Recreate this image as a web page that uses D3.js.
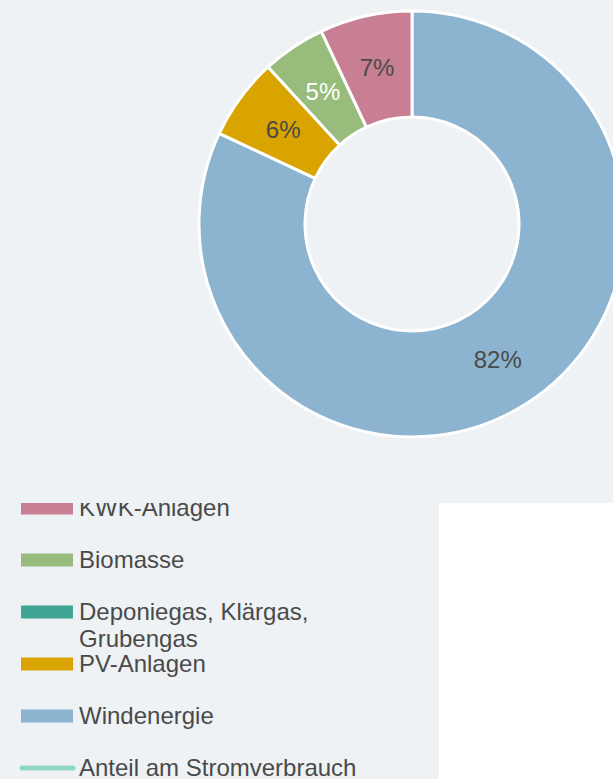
<!DOCTYPE html>
<html>
<head>
<meta charset="utf-8">
<script src="https://cdn.jsdelivr.net/npm/d3@7/dist/d3.min.js"></script>
<style>
  html, body { margin: 0; padding: 0; background: #ffffff; }
  svg { display: block; font-family: "Liberation Sans", Arial, sans-serif; }
</style>
</head>
<body>
<script>
// Kategorien in Legendenreihenfolge, Anteile in Prozent
var categories = ["KWK-Anlagen", "Biomasse", "Deponiegas, Klärgas, Grubengas", "PV-Anlagen", "Windenergie"];
var shares = [7.0, 4.8, 0.0, 6.2, 82.0];
var colors = ["#c97f93", "#97bc7b", "#40a595", "#d9a300", "#8cb4d0"];
var lineLabel = "Anteil am Stromverbrauch";
var lineColor = "#8fd5c8";

var width = 613, height = 779;

var svg = d3.select("body").append("svg")
    .attr("width", width)
    .attr("height", height);

// Hintergrund: oberer Bereich und Legendenbereich, rechts unten weiss
svg.append("rect")
    .attr("x", 0).attr("y", 0)
    .attr("width", width).attr("height", 503)
    .attr("fill", "#eef2f5");
svg.append("rect")
    .attr("x", 0).attr("y", 503)
    .attr("width", 439).attr("height", height - 503)
    .attr("fill", "#eef2f5");

/*
* Donut: Reihenfolge im Uhrzeigersinn ab 12 Uhr = Legende rueckwaerts
*/
var data = categories.map(function(c, i) {
    return {name: c, value: shares[i], color: colors[i]};
}).reverse();

var cx = 412, cy = 224;
var outerR = 213, innerR = 107;

var pie = d3.pie().sort(null).value(function(d) { return d.value; });
var arc = d3.arc().innerRadius(innerR).outerRadius(outerR);
var labelArc = d3.arc().innerRadius((innerR + outerR) / 2).outerRadius((innerR + outerR) / 2);

var donut = svg.append("g").attr("transform", "translate(" + cx + "," + cy + ")");

donut.selectAll("path.slice").data(pie(data).filter(function(d) { return d.data.value > 0; }))
    .enter().append("path")
    .attr("class", "slice")
    .attr("d", arc)
    .attr("fill", function(d) { return d.data.color; })
    .attr("stroke", "#ffffff")
    .attr("stroke-width", 3)
    .attr("stroke-linejoin", "round");

donut.selectAll("text.lbl").data(pie(data).filter(function(d) { return d.data.value > 0; }))
    .enter().append("text")
    .attr("class", "lbl")
    .attr("transform", function(d) { return "translate(" + labelArc.centroid(d) + ")"; })
    .attr("text-anchor", "middle")
    .attr("dy", "0.36em")
    .attr("font-size", 24)
    .attr("fill", function(d) { return d.data.name === "Biomasse" ? "#ffffff" : "#4a4a4a"; })
    .text(function(d) { return Math.round(d.data.value) + "%"; });

/*
* Legende, oben abgeschnitten wie im Original
*/
svg.append("clipPath").attr("id", "legendClip")
    .append("rect")
    .attr("x", 0).attr("y", 503)
    .attr("width", 439).attr("height", height - 503);

var legend = svg.append("g").attr("clip-path", "url(#legendClip)");

var legendItems = categories.map(function(c, i) {
    return {name: c, color: colors[i], type: "rect"};
});
legendItems.push({name: lineLabel, color: lineColor, type: "line"});

var ly = d3.scaleLinear().domain([0, legendItems.length - 1]).range([508, 768]);

var item = legend.selectAll("g.item").data(legendItems).enter().append("g")
    .attr("class", "item")
    .attr("transform", function(d, i) { return "translate(0," + ly(i) + ")"; });

item.filter(function(d) { return d.type === "rect"; }).append("rect")
    .attr("x", 21).attr("y", -6.5)
    .attr("width", 52).attr("height", 13)
    .attr("fill", function(d) { return d.color; });

item.filter(function(d) { return d.type === "line"; }).append("line")
    .attr("x1", 22).attr("x2", 73)
    .attr("y1", 0).attr("y2", 0)
    .attr("stroke", function(d) { return d.color; })
    .attr("stroke-width", 5)
    .attr("stroke-linecap", "round");

// Text mit Zeilenumbruch bei langen Namen
var maxTextWidth = 280;
item.append("text")
    .attr("x", 79)
    .attr("y", 8)
    .attr("font-size", 24)
    .attr("fill", "#4a4a4a")
    .each(function(d) {
        var t = d3.select(this);
        var words = d.name.split(" ");
        var line = [];
        var tspan = t.append("tspan").attr("x", 79).attr("dy", 0);
        words.forEach(function(w) {
            line.push(w);
            tspan.text(line.join(" "));
            if (tspan.node().getComputedTextLength() > maxTextWidth && line.length > 1) {
                line.pop();
                tspan.text(line.join(" "));
                line = [w];
                tspan = t.append("tspan").attr("x", 79).attr("dy", 27).text(w);
            }
        });
    });
</script>
</body>
</html>
